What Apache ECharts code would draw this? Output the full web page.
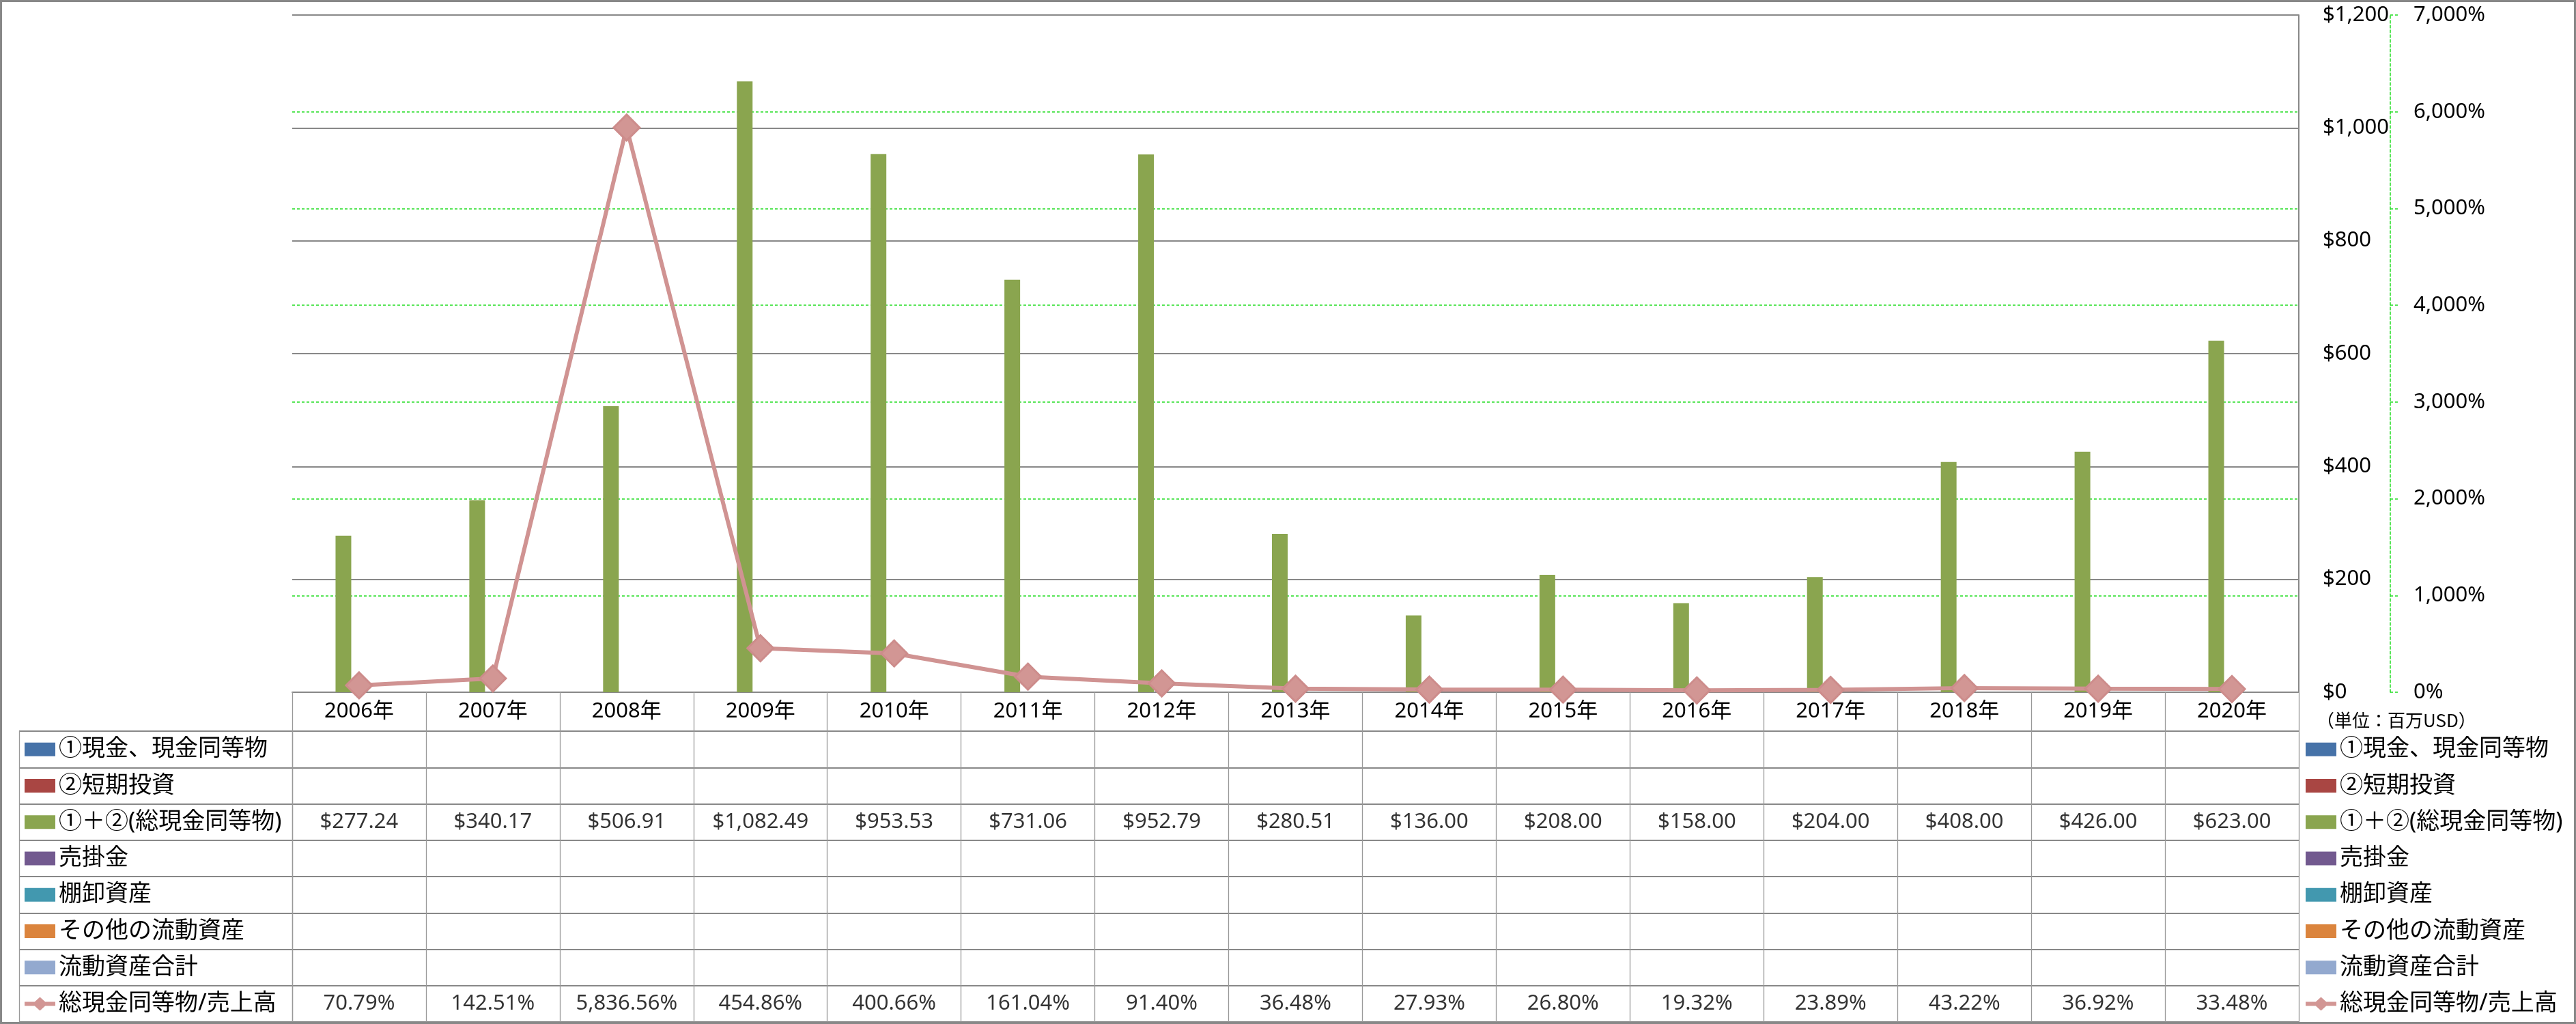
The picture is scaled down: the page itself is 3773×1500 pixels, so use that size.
<!DOCTYPE html>
<html>
<head>
<meta charset="utf-8">
<script src="https://cdn.jsdelivr.net/npm/echarts@6/dist/echarts.min.js"></script>
<style>
html,body{margin:0;padding:0;background:#fff;}
#chart{width:3773px;height:1500px;}
</style>
</head>
<body>
<div id="chart"></div>
<script>
// ---- data ----
const years = ['2006年','2007年','2008年','2009年','2010年','2011年','2012年','2013年','2014年','2015年','2016年','2017年','2018年','2019年','2020年'];
const seriesNames = ['①現金、現金同等物','②短期投資','①＋②(総現金同等物)','売掛金','棚卸資産','その他の流動資産','流動資産合計','総現金同等物/売上高'];
const cashTotal = [277.24, 340.17, 506.91, 1082.49, 953.53, 731.06, 952.79, 280.51, 136.00, 208.00, 158.00, 204.00, 408.00, 426.00, 623.00];
const cashToSales = [70.79, 142.51, 5836.56, 454.86, 400.66, 161.04, 91.40, 36.48, 27.93, 26.80, 19.32, 23.89, 43.22, 36.92, 33.48];
const usdAxis = {min: 0, max: 1200, interval: 200};
const pctAxis = {min: 0, max: 7000, interval: 1000};
const unitText = '（単位：百万USD）';

// ---- styles ----
const colors = ['#4672A8','#A94643','#8AA54F','#72598F','#4298AF','#DB843D','#93A9CF','#D09392'];
const FONT = '"Noto Sans", "Noto Sans CJK JP", sans-serif';
const GREEN = '#22dd22';
const LINE_ICON = 'path://M0,7L14.8,7L22.5,0L30.2,7L45,7L45,13L30.2,13L22.5,20L14.8,13L0,13Z';
const fmtUSD = v => '$' + v.toLocaleString('en-US', {minimumFractionDigits: 2, maximumFractionDigits: 2});
const fmtPct = v => v.toLocaleString('en-US', {minimumFractionDigits: 2, maximumFractionDigits: 2}) + '%';

const tableCells = [];
years.forEach((y, i) => {
  tableCells.push([i, 2, fmtUSD(cashTotal[i])]);
  tableCells.push([i, 7, fmtPct(cashToSales[i])]);
});

const legendData = seriesNames.map((n, i) => i < 7 ? {name: n, icon: 'rect'} : {name: n, icon: LINE_ICON, itemStyle: {borderWidth: 0}});
const legendBase = {
  data: legendData, orient: 'vertical', top: 1071, padding: 0, itemGap: 0,
  itemWidth: 45, itemHeight: 20, selectedMode: false,
  textStyle: {fontSize: 34, lineHeight: 53.25, color: '#000', fontFamily: FONT}
};

const barSeries = seriesNames.slice(0, 7).map((n, i) => ({
  type: 'bar', name: n, xAxisIndex: 0, yAxisIndex: 0,
  barWidth: 23, barGap: '0%',
  data: i === 2 ? cashTotal : [],
  itemStyle: {color: colors[i]}
}));

const option = {
  animation: false,
  backgroundColor: '#ffffff',
  textStyle: {fontFamily: FONT},
  graphic: [{
    type: 'rect', silent: true, z: 100,
    shape: {x: 1.5, y: 1.5, width: 3770, height: 1497},
    style: {fill: 'none', stroke: '#888888', lineWidth: 3}
  }],
  title: {
    text: unitText, left: 3393, top: 1041, padding: 0,
    textStyle: {fontSize: 26, fontWeight: 'normal', color: '#000', lineHeight: 28, fontFamily: '"Noto Sans CJK JP", sans-serif'}
  },
  legend: [
    Object.assign({}, legendBase, {left: 36}),
    Object.assign({}, legendBase, {left: 3377})
  ],
  grid: [
    {left: 428, top: 22, width: 2939, height: 992},
    {left: 428, top: 1071, width: 2939, height: 426},
    {left: 28, top: 1071, width: 400, height: 426}
  ],
  xAxis: [
    {gridIndex: 0, type: 'category', data: years, position: 'bottom',
     axisLine: {show: true, lineStyle: {color: '#888', width: 2}},
     axisTick: {show: true, interval: 0, length: 57, lineStyle: {color: '#999', width: 1.3}},
     axisLabel: {interval: 0, margin: 0, lineHeight: 57, fontSize: 31, color: '#000'},
     splitLine: {show: false}},
    {gridIndex: 1, type: 'category', data: years,
     axisLine: {show: false}, axisTick: {show: false}, axisLabel: {show: false},
     splitLine: {show: true, interval: 0, lineStyle: {color: '#999', width: 1.3}}},
    {gridIndex: 2, type: 'category', data: [''],
     axisLine: {show: false}, axisTick: {show: false}, axisLabel: {show: false},
     splitLine: {show: true, interval: 0, lineStyle: {color: '#999', width: 1.3}}}
  ],
  yAxis: [
    {gridIndex: 0, type: 'value', position: 'right', min: usdAxis.min, max: usdAxis.max, interval: usdAxis.interval,
     axisLine: {show: true, lineStyle: {color: '#888', width: 2}},
     axisTick: {show: false},
     axisLabel: {margin: 35, align: 'left', fontSize: 31, color: '#000', formatter: v => '$' + v.toLocaleString('en-US')},
     splitLine: {show: true, lineStyle: {color: '#888', width: 2}}},
    {gridIndex: 0, type: 'value', position: 'right', offset: 134, min: pctAxis.min, max: pctAxis.max, interval: pctAxis.interval,
     axisLine: {show: true, lineStyle: {color: GREEN, type: [4, 3], width: 1.5}},
     axisTick: {show: true, inside: false, length: 12, lineStyle: {color: GREEN, type: [4, 3], width: 1.5}},
     axisLabel: {margin: 34, align: 'left', fontSize: 31, color: '#000', formatter: v => v.toLocaleString('en-US') + '%'},
     splitLine: {show: true, showMinLine: false, showMaxLine: false, lineStyle: {color: GREEN, type: [4, 3], width: 1.5}}},
    {gridIndex: 1, type: 'category', data: seriesNames, inverse: true,
     axisLine: {show: false}, axisTick: {show: false}, axisLabel: {show: false},
     splitLine: {show: true, interval: 0, lineStyle: {color: '#888', width: 2}}},
    {gridIndex: 2, type: 'category', data: seriesNames, inverse: true,
     axisLine: {show: false}, axisTick: {show: false}, axisLabel: {show: false},
     splitLine: {show: true, interval: 0, lineStyle: {color: '#888', width: 2}}}
  ],
  series: barSeries.concat([
    {type: 'line', name: seriesNames[7], xAxisIndex: 0, yAxisIndex: 1, data: cashToSales,
     symbol: 'diamond', symbolSize: 38, z: 5,
     lineStyle: {color: colors[7], width: 6},
     itemStyle: {color: '#D29694', borderColor: '#CD8C8B', borderWidth: 3}},
    {type: 'scatter', name: 'table', xAxisIndex: 1, yAxisIndex: 2, data: tableCells,
     symbolSize: 1, itemStyle: {color: 'rgba(0,0,0,0)'},
     label: {show: true, position: 'inside', formatter: p => p.value[2], fontSize: 31, color: '#000', fontFamily: FONT}}
  ])
};

const chart = echarts.init(document.getElementById('chart'));
chart.setOption(option);
</script>
</body>
</html>
